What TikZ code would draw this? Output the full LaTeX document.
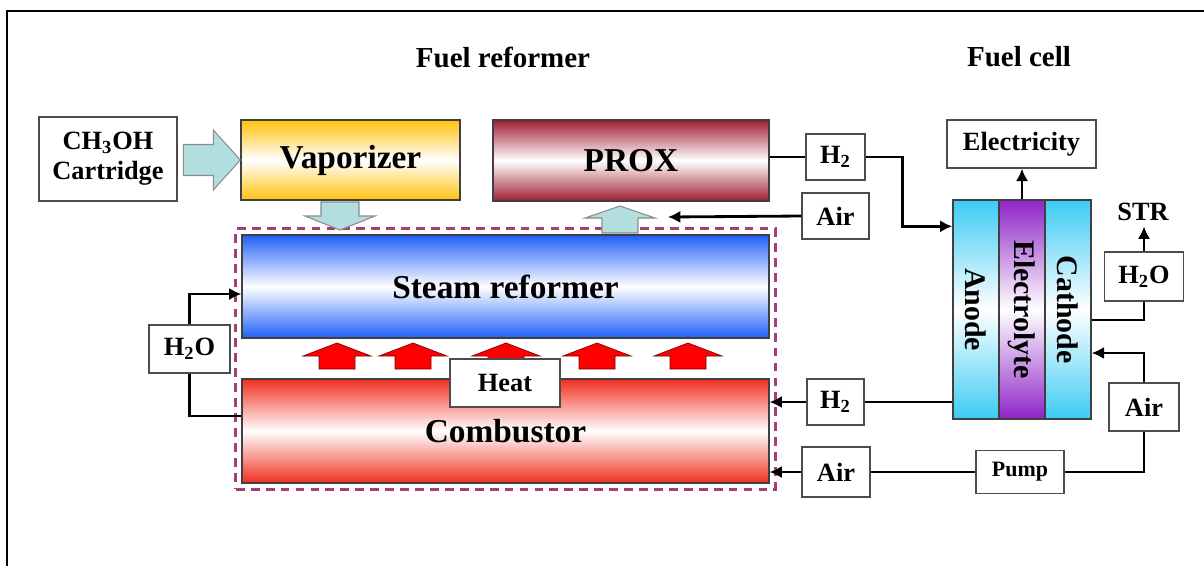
\documentclass[tikz,border=0pt]{standalone}
\usepackage{fontspec}
\setmainfont{Liberation Serif}
\usepackage{graphicx}
\usetikzlibrary{arrows.meta,positioning,fit}
\definecolor{gold}{HTML}{FFC20E}
\definecolor{proxred}{HTML}{A01E34}
\definecolor{steamblue}{HTML}{2060F8}
\definecolor{fire}{HTML}{F03020}
\definecolor{cellcyan}{HTML}{3CCBF4}
\definecolor{membrane}{HTML}{8E24C8}
\definecolor{pale}{HTML}{B2DEDF}
\definecolor{plum}{HTML}{A3407A}
\tikzset{
  box/.style={draw=black!70,line width=.8pt,fill=white,inner sep=0pt,align=center,
    font=\bfseries\fontsize{15}{17}\selectfont},
  unit/.style={draw=black!75,line width=.8pt,inner sep=0pt,font=\bfseries\fontsize{19}{21}\selectfont},
  cellpart/.style={draw=black!75,line width=.8pt,inner sep=0pt,minimum width=.92cm,minimum height=4.38cm,
    font=\bfseries\fontsize{17}{17}\selectfont},
  pipe/.style={line width=1.6pt},
  flow/.style={pipe,-{Latex[length=7pt,width=7pt]}},
  pics/blockarrow/.style n args={4}{code={
    \draw[pic actions] (0,0)--(-#2,#4)--(-#2,#3)--(-#1,#3)--(-#1,-#3)--(-#2,-#3)--(-#2,-#4)--cycle;}},
}
\begin{document}
\begin{tikzpicture}[x=.02cm,y=-.02cm]
\useasboundingbox (0,0) rectangle (1204,566);
\draw[line width=1.2pt] (7,566)--(7,11)--(1204,11);
\node[font=\bfseries\fontsize{16.5}{18}\selectfont] (ttlref) at (503,57) {Fuel reformer};
\node[font=\bfseries\fontsize{16.5}{18}\selectfont] (ttlcell) at (1019,57) {Fuel cell};
% reformer side
\node[box,minimum width=2.76cm,minimum height=1.68cm] (cart) at (108,159) {CH\textsubscript{3}OH\\Cartridge};
\node[unit,minimum width=4.38cm,minimum height=1.6cm,top color=gold,bottom color=gold,middle color=white] (vap) at (350.5,160) {Vaporizer};
\node[unit,minimum width=5.52cm,minimum height=1.62cm,top color=proxred,bottom color=proxred,middle color=white] (prox) at (631,160.5) {PROX};
\node[unit,minimum width=10.54cm,minimum height=2.06cm,top color=steamblue,bottom color=steamblue,middle color=white] (steam) at (505.5,286.5) {Steam reformer};
\node[unit,minimum width=10.54cm,minimum height=2.08cm,top color=fire,bottom color=fire,middle color=white] (comb) at (505.5,431) {Combustor};
\node[draw=plum,line width=1.7pt,dash pattern=on 5pt off 3.5pt,fit=(steam)(comb),inner sep=.11cm] (reformer) {};
\pic[fill=pale,draw=black!45,line width=.6pt] at (vap.west) {blockarrow={57}{27}{15.5}{30}};
\pic[fill=pale,draw=black!45,line width=.6pt,rotate=-90] at (340,230) {blockarrow={28}{14}{19}{35}};
\pic[fill=pale,draw=black!45,line width=.6pt,rotate=90] at (620,206) {blockarrow={27}{12}{18}{35}};
\foreach \hx in {337,413,506,597,688}
  \pic[fill=red,draw=red!50!black,line width=.4pt,rotate=90] at (\hx,343) {blockarrow={26}{13}{18}{34}};
\node[box,minimum width=2.2cm,minimum height=.96cm] (heat) at (505,383) {Heat};
\node[box,minimum width=1.62cm,minimum height=.96cm] (h2oL) at (189.5,349) {H\textsubscript{2}O};
% fuel cell side
\node[box,minimum width=1.18cm,minimum height=.92cm] (h2a) at (835.5,157) {H\textsubscript{2}};
\node[box,minimum width=1.34cm,minimum height=.92cm] (airA) at (835.5,216) {Air};
\coordinate (proxair) at (668,217);
\node[box,minimum width=2.98cm,minimum height=.96cm] (elec) at (1021.5,144) {Electricity};
\node[cellpart,top color=cellcyan,bottom color=cellcyan,middle color=white] (anode) at (976,309.5) {\rotatebox{-90}{Anode}};
\node[cellpart,top color=membrane,bottom color=membrane,middle color=white] (elyte) at (1022,309.5) {\rotatebox{-90}{Electrolyte}};
\node[cellpart,top color=cellcyan,bottom color=cellcyan,middle color=white] (cathode) at (1068,309.5) {\rotatebox{-90}{Cathode}};
\node[font=\bfseries\fontsize{15}{17}\selectfont,inner sep=3pt] (str) at (1143,212) {STR};
\node[box,minimum width=1.58cm,minimum height=.98cm] (h2oR) at (1144,276.5) {H\textsubscript{2}O};
\node[box,minimum width=1.4cm,minimum height=.96cm] (airR) at (1144,407) {Air};
\node[box,minimum width=1.76cm,minimum height=.86cm,font=\bfseries\fontsize{12.5}{14}\selectfont] (pump) at (1020,472) {Pump};
\node[box,minimum width=1.36cm,minimum height=1cm] (airB) at (836,472) {Air};
\node[box,minimum width=1.14cm,minimum height=.92cm] (h2b) at (835.5,402) {H\textsubscript{2}};
% streams
\draw[pipe] (prox.east |- h2a) -- (h2a.west);
\draw[flow] (h2a.east) -- ++(37,0) |- ([yshift=-.54cm]anode.north west);
\draw[flow] (airA.west) -- (proxair);
\draw[flow] (elyte.north) -- (elyte.north |- elec.south);
\draw[pipe] ([yshift=-.21cm]cathode.east) -| (h2oR.south);
\draw[flow] (h2oR.north) -- (h2oR.north |- str.south);
\draw[flow] (airR.north) |- ([yshift=-.87cm]cathode.east);
\draw[pipe] (airR.south) |- (pump.east);
\draw[pipe] (pump.west) -- (airB.east);
\draw[flow] (airB.west) -- (airB.west -| comb.east);
\draw[pipe] (anode.west |- h2b.east) -- (h2b.east);
\draw[flow] (h2b.west) -- (h2b.west -| comb.east);
\draw[flow] (h2oL.north) |- ([yshift=-.15cm]steam.west);
\draw[pipe] (h2oL.south) |- ([yshift=.3cm]comb.west);
\end{tikzpicture}
\end{document}
